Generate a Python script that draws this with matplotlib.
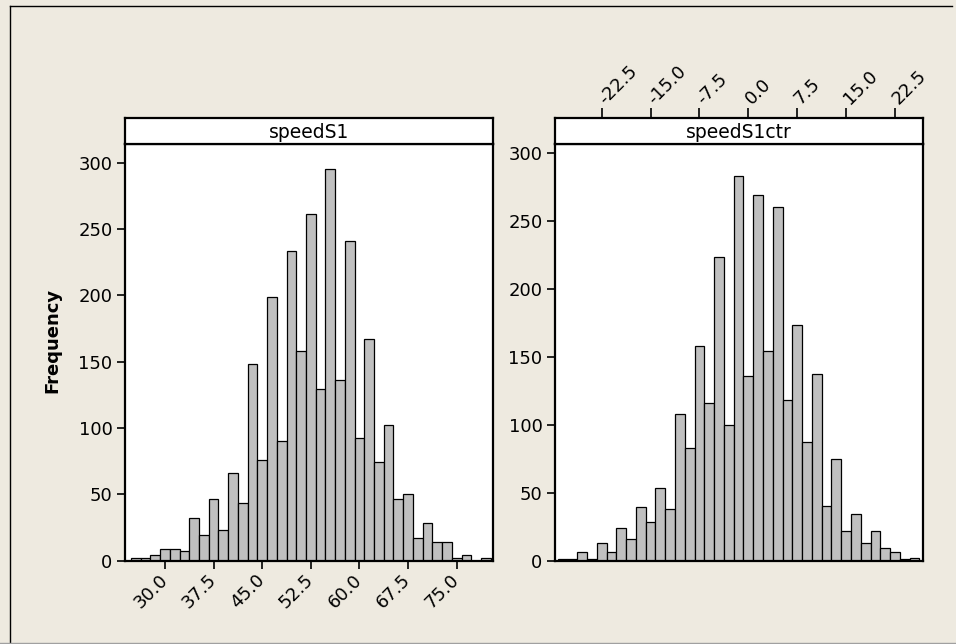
import matplotlib
matplotlib.use('Agg')
import matplotlib.pyplot as plt
from matplotlib.lines import Line2D

# bin centres (width 1.5) and counts
s1_centres = [25.5, 27.0, 28.5, 30.0, 31.5, 33.0, 34.5, 36.0, 37.5, 39.0,
              40.5, 42.0, 43.5, 45.0, 46.5, 48.0, 49.5, 51.0, 52.5, 54.0,
              55.5, 57.0, 58.5, 60.0, 61.5, 63.0, 64.5, 66.0, 67.5, 69.0,
              70.5, 72.0, 73.5, 75.0, 76.5, 78.0, 79.5]
s1_counts = [2, 2, 4, 9, 9, 7, 32, 19, 46, 23, 66, 43, 148, 76, 199, 90, 233,
             158, 261, 129, 295, 136, 241, 92, 167, 74, 102, 46, 50, 17, 28,
             14, 14, 2, 4, 0, 2]

ctr_centres = [-28.5, -27.0, -25.5, -24.0, -22.5, -21.0, -19.5, -18.0, -16.5,
               -15.0, -13.5, -12.0, -10.5, -9.0, -7.5, -6.0, -4.5, -3.0, -1.5,
               0.0, 1.5, 3.0, 4.5, 6.0, 7.5, 9.0, 10.5, 12.0, 13.5, 15.0,
               16.5, 18.0, 19.5, 21.0, 22.5, 24.0, 25.5]
ctr_counts = [1, 1, 6, 1, 13, 6, 24, 16, 39, 28, 53, 38, 108, 83, 158, 116,
              223, 100, 283, 136, 269, 154, 260, 118, 173, 87, 137, 40, 75, 22,
              34, 13, 22, 9, 6, 1, 2]

s1_ticks = [30.0, 37.5, 45.0, 52.5, 60.0, 67.5, 75.0]
ctr_ticks = [-22.5, -15.0, -7.5, 0.0, 7.5, 15.0, 22.5]
y_ticks = [0, 50, 100, 150, 200, 250, 300]

bin_width = 1.5
W, H = 956, 644
bg = '#EEEAE0'
fs = 13

plt.rcParams['font.family'] = 'DejaVu Sans'

fig = plt.figure(figsize=(W / 100, H / 100), dpi=100, facecolor=bg)


def box(x0, y0, x1, y1):
    # pixel box (top-left origin) -> figure fraction rect
    return [x0 / W, 1 - y1 / H, (x1 - x0) / W, (y1 - y0) / H]


def panel(x0, x1, title, centres, counts, xlim, ylim):
    ax = fig.add_axes(box(x0, 144, x1, 560.5))
    ax.bar(centres, counts, width=bin_width, color='#C0C0C0',
           edgecolor='black', linewidth=0.9)
    ax.set_xlim(*xlim)
    ax.set_ylim(*ylim)
    ax.set_yticks(y_ticks)
    ax.tick_params(axis='y', direction='out', length=6, width=1.2,
                   labelsize=fs, pad=3)
    for sp in ax.spines.values():
        sp.set_linewidth(1.6)
    # strip header
    st = fig.add_axes(box(x0, 118, x1, 144))
    st.set_xlim(*xlim)
    st.set_yticks([])
    st.set_facecolor('white')
    for sp in st.spines.values():
        sp.set_linewidth(1.6)
    st.text(0.5, 0.45, title, transform=st.transAxes, ha='center',
            va='center', fontsize=13.5)
    return ax, st


ax1, st1 = panel(125, 493, 'speedS1', s1_centres, s1_counts,
                 (23.83, 80.6), (0, 314))
ax1.set_xticks(s1_ticks)
ax1.set_xticklabels(['%.1f' % t for t in s1_ticks], rotation=45,
                    ha='right', va='center', rotation_mode='anchor')
ax1.tick_params(axis='x', direction='out', length=6, width=1.2,
                labelsize=fs, pad=6)
st1.set_xticks([])

ax2, st2 = panel(555, 923, 'speedS1ctr', ctr_centres, ctr_counts,
                 (-29.65, 26.8), (0, 306.4))
ax2.set_xticks([])
st2.set_xticks(ctr_ticks)
st2.set_xticklabels(['%.1f' % t for t in ctr_ticks], rotation=45,
                    ha='left', va='center', rotation_mode='anchor')
st2.xaxis.tick_top()
st2.tick_params(axis='x', direction='out', length=7, width=1.2,
                labelsize=fs, pad=5, bottom=False, top=True)

fig.text(52 / W, 1 - 340 / H, 'Frequency', rotation=90, ha='center',
         va='center', fontsize=13, fontweight='bold')

# outer frame: dark left/top, grey bottom
fig.add_artist(Line2D([10 / W, 10 / W], [1 - 643 / H, 1 - 6 / H],
                      color='black', linewidth=1.0))
fig.add_artist(Line2D([10 / W, 952 / W], [1 - 6 / H, 1 - 6 / H],
                      color='black', linewidth=1.0))
fig.add_artist(Line2D([0, 1], [1 - 643 / H, 1 - 643 / H],
                      color='#A0A0A0', linewidth=1.0))

fig.savefig('out.png', dpi=100, facecolor=bg)
